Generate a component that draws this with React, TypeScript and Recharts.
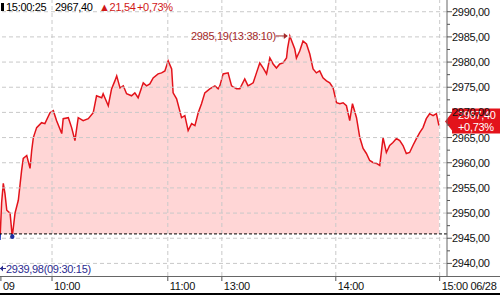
import React from "react";
import { ComposedChart, Area, XAxis, YAxis, ReferenceLine, ReferenceDot } from "recharts";

// intraday index, 2024-06-28 (trading-minute slots: 0 = 09:30, 120 = 13:00, 240 = 15:00)
const prevClose = 2945.86;
const lastPrice = 2967.4;
const change = 21.54;
const changePct = 0.73;
const quoteTime = "15:00:25";

const highPrice = 2985.19;
const highTime = "13:38:10";
const highSlot = 158.2;
const lowPrice = 2939.98;
const lowTime = "09:30:15";
const lowDotSlot = 6.7;
const lowDotPrice = 2945.3;

const slots = [
  0, 0.9, 1.8, 2.7, 3.7, 5.5, 6.7, 8.2, 10.0, 11.8, 12.7, 14.6, 16.4, 17.3, 18.2, 20.0,
  22.7, 24.5, 27.3, 29.1, 30.9, 33.7, 34.5, 37.3, 39.1, 40.9, 42.7, 45.4, 48.2, 50.9,
  52.7, 55.5, 56.3, 59.1, 60.9, 62.7, 63.7, 65.5, 67.3, 69.1, 71.8, 73.6, 75.4, 78.2,
  80.0, 81.8, 83.6, 86.3, 88.2, 90.0, 91.8, 93.7, 94.5, 96.4, 99.1, 100.9, 102.7, 104.6,
  106.4, 108.2, 110.0, 111.8, 114.5, 117.3, 119.1, 120.0, 121.8, 124.5, 126.4, 129.1,
  130.9, 133.6, 135.4, 138.2, 140.0, 141.8, 143.6, 145.5, 147.3, 149.1, 150.9, 152.7,
  154.5, 156.4, 157.0, 158.2, 160.9, 161.8, 163.6, 165.4, 167.3, 169.1, 170.9, 172.7,
  174.5, 176.3, 178.2, 180.0, 181.8, 183.7, 185.5, 187.3, 189.1, 190.9, 192.4, 194.6,
  196.4, 198.2, 200.0, 201.8, 203.6, 205.5, 207.3, 209.1, 210.9, 212.7, 214.5, 216.4,
  218.2, 220.0, 221.8, 223.6, 225.4, 227.3, 229.1, 230.9, 232.7, 234.5, 236.4, 238.2,
  239.6,
];

const prices = [
  2944.64, 2952.15, 2955.9, 2953.93, 2950.57, 2949.98, 2945.3, 2949.98, 2952.55, 2958.48,
  2960.85, 2961.44, 2958.87, 2962.43, 2965.0, 2966.98, 2967.96, 2967.77, 2969.94, 2970.34,
  2968.36, 2965.79, 2968.76, 2968.95, 2966.98, 2964.41, 2968.95, 2968.36, 2968.76, 2969.94,
  2973.3, 2972.91, 2973.7, 2971.32, 2974.68, 2976.26, 2977.25, 2974.88, 2975.28, 2973.7,
  2973.3, 2973.89, 2972.91, 2975.87, 2975.28, 2975.67, 2976.86, 2977.65, 2977.85, 2978.24,
  2980.22, 2978.64, 2973.89, 2972.71, 2968.95, 2969.35, 2966.38, 2967.77, 2967.37, 2969.94,
  2971.72, 2973.89, 2974.68, 2975.28, 2974.68, 2975.28, 2977.65, 2977.85, 2975.28, 2974.68,
  2974.68, 2976.66, 2975.28, 2975.87, 2977.85, 2979.82, 2978.83, 2977.65, 2980.81, 2979.62,
  2978.83, 2979.62, 2979.82, 2980.81, 2982.79, 2985.19, 2982.59, 2980.81, 2982.19, 2984.17,
  2983.58, 2981.6, 2978.64, 2977.85, 2978.24, 2976.86, 2976.26, 2975.87, 2974.88, 2971.92,
  2971.72, 2971.92, 2971.32, 2968.36, 2971.72, 2968.95, 2965.0, 2962.83, 2961.84, 2960.45,
  2960.06, 2959.86, 2959.47, 2965.0, 2962.04, 2963.42, 2964.01, 2964.8, 2964.41, 2963.42,
  2961.84, 2962.04, 2963.42, 2964.8, 2965.99, 2966.98, 2968.76, 2969.74, 2969.35, 2969.74,
  2967.4,
];

const yMajorTicks = [2940, 2945, 2950, 2955, 2960, 2965, 2970, 2975, 2980, 2985, 2990];
const yMinorTicks = [2942.5, 2947.5, 2952.5, 2957.5, 2962.5, 2967.5, 2972.5, 2977.5, 2982.5, 2987.5];

const xTickSlots = [0.5, 28.4, 91.6, 121.1, 183.3, 240];
const xTickLabels = ["09", "10:00", "11:00", "13:00", "14:00", "15:00 06/28"];
const xGridSlots = [28.4, 91.6, 121.1, 183.3, 240];

const data = slots.map((slot, i) => ({ slot, price: prices[i] }));

const FONT = '"Liberation Sans", Arial, sans-serif';
const RED = "#e3131b";
const fmt = (v: number) => v.toFixed(2).replace(".", ",");

const maxP = Math.max(...prices);
const minP = Math.min(...prices);
const baseOffset = (maxP - prevClose) / (maxP - minP);

const YTick = ({ x, y, payload }: any) => {
  const major = payload.value % 5 === 0;
  return (
    <g>
      <line x1={x} x2={x + (major ? 5 : 3)} y1={y} y2={y} stroke="#555" />
      {major && (
        <text x={x + 5} y={y} dy={4} fontSize={11} letterSpacing={-0.3} fill="#111" fontFamily={FONT}>
          {fmt(payload.value)}
        </text>
      )}
    </g>
  );
};

const XTick = ({ x, y, payload }: any) => {
  const i = xTickSlots.indexOf(payload.value);
  return (
    <g>
      <line x1={x} x2={x} y1={y + 1} y2={y + 5} stroke="#555" />
      <text x={x + 2} y={y + 14} fontSize={11} letterSpacing={-0.3} fill="#111" fontFamily={FONT}>
        {xTickLabels[i]}
      </text>
    </g>
  );
};

const PriceTag = ({ viewBox }: any) => {
  const x = viewBox.x + viewBox.width;
  const cy = viewBox.y - 4;
  return (
    <g>
      <polygon
        points={`${x - 2},${cy} ${x + 5},${cy - 9} ${x + 5},${cy - 13} ${x + 53},${cy - 13} ${x + 53},${cy + 12} ${x + 5},${cy + 12} ${x + 5},${cy + 9}`}
        fill={RED}
      />
      <text x={x + 11} y={cy - 2} fontSize={11} letterSpacing={-0.3} fill="#fff" fontFamily={FONT}>
        {fmt(lastPrice)}
      </text>
      <text x={x + 11} y={cy + 10} fontSize={11} letterSpacing={-0.3} fill="#fff" fontFamily={FONT}>
        {"+" + fmt(changePct) + "%"}
      </text>
    </g>
  );
};

const HighMark = ({ cx, cy }: any) => (
  <g>
    <text x={cx - 14} y={cy + 4} textAnchor="end" fontSize={11} letterSpacing={-0.3} fill="#a52a2a" fontFamily={FONT}>
      {fmt(highPrice)}({highTime})
    </text>
    <line x1={cx - 14} x2={cx - 3} y1={cy} y2={cy} stroke="#a52a2a" />
    <polygon points={`${cx - 2},${cy} ${cx - 6},${cy - 3} ${cx - 6},${cy + 3}`} fill="#a52a2a" />
  </g>
);

const LowMark = ({ cx, cy }: any) => (
  <g>
    <line x1={cx} x2={cx + 6} y1={cy + 5} y2={cy + 5} stroke="#2b2b8f" />
    <polygon points={`${cx},${cy + 5} ${cx + 3},${cy + 2} ${cx + 3},${cy + 8}`} fill="#2b2b8f" />
    <text x={cx + 6} y={cy + 9} fontSize={11} letterSpacing={-0.3} fill="#2b2b8f" fontFamily={FONT}>
      {fmt(lowPrice)}({lowTime})
    </text>
  </g>
);

export default function App() {
  return (
    <div style={{ position: "absolute", left: 0, top: 0, width: 500, height: 295, background: "#fff", overflow: "hidden", fontFamily: FONT }}>
      <ComposedChart width={500} height={295} data={data} margin={{ top: 0, right: 0, bottom: 0, left: 0 }}>
        <defs>
          <linearGradient id="lineGrad" x1="0" y1="0" x2="0" y2="1">
            <stop offset={baseOffset} stopColor={RED} />
            <stop offset={baseOffset} stopColor="#1f2fb0" />
          </linearGradient>
          <linearGradient id="fillGrad" x1="0" y1="0" x2="0" y2="1">
            <stop offset={baseOffset} stopColor="#ffd6d6" />
            <stop offset={baseOffset} stopColor="#d6dcff" />
          </linearGradient>
        </defs>
        <XAxis
          type="number"
          dataKey="slot"
          domain={[0, 244]}
          ticks={xTickSlots}
          interval={0}
          height={19}
          tickLine={false}
          tickSize={0}
          tickMargin={0}
          axisLine={false}
          tick={<XTick />}
        />
        <YAxis
          orientation="right"
          type="number"
          domain={[2937.5, 2992.33]}
          allowDataOverflow
          ticks={[...yMajorTicks, ...yMinorTicks]}
          interval={0}
          width={53}
          tickLine={false}
          tickSize={0}
          tickMargin={0}
          axisLine={{ stroke: "#666" }}
          tick={<YTick />}
        />
        {yMajorTicks.map((v) => (
          <ReferenceLine key={"h" + v} y={v} stroke="#c9c9c9" strokeDasharray="4 3" />
        ))}
        {xGridSlots.map((s) => (
          <ReferenceLine key={"v" + s} x={s} stroke="#c9c9c9" strokeDasharray="4 3" />
        ))}
        <Area
          type="linear"
          dataKey="price"
          baseValue={prevClose}
          stroke="url(#lineGrad)"
          strokeWidth={1.5}
          fill="url(#fillGrad)"
          fillOpacity={1}
          dot={false}
          activeDot={false}
          isAnimationActive={false}
        />
        <ReferenceLine y={prevClose} stroke="#000" strokeDasharray="3 2" />
        <ReferenceLine y={lastPrice} stroke="transparent" label={<PriceTag />} />
        <ReferenceDot x={highSlot} y={highPrice} r={0} shape={<HighMark />} />
        <ReferenceDot x={0} y={lowPrice} r={0} shape={<LowMark />} />
        <ReferenceDot x={lowDotSlot} y={lowDotPrice} r={2.2} fill="#1f2f9f" stroke="none" />
      </ComposedChart>
      <div style={{ position: "absolute", left: 0, top: 276, width: 500, height: 1, background: "#666" }} />
      <div style={{ position: "absolute", left: 0, top: 293, width: 500, height: 2, background: "#000" }} />
      <div style={{ position: "absolute", left: 1, top: 3, width: 3, height: 8, background: "#000" }} />
      <div style={{ position: "absolute", left: 0, top: 0, height: 14, fontSize: 11, letterSpacing: -0.3, lineHeight: "14px", whiteSpace: "nowrap" }}>
        <span style={{ position: "absolute", left: 6, color: "#000" }}>{quoteTime}</span>
        <span style={{ position: "absolute", left: 55, color: "#000" }}>{fmt(lastPrice)}</span>
        <span style={{ position: "absolute", left: 99, color: "#d01818" }}>{"▲" + fmt(change)}</span>
        <span style={{ position: "absolute", left: 137, color: "#d01818" }}>{"+" + fmt(changePct) + "%"}</span>
      </div>
    </div>
  );
}
